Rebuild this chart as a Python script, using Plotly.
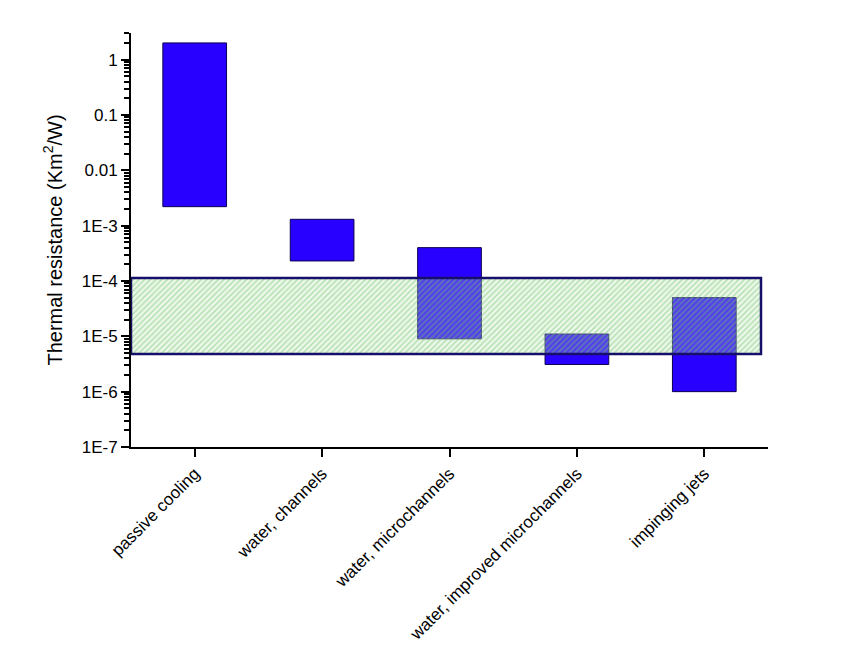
import plotly.graph_objects as go

# ---- data ----
categories = [
    "passive cooling",
    "water, channels",
    "water, microchannels",
    "water, improved microchannels",
    "impinging jets",
]
r_low = [2.2e-3, 2.3e-4, 9.0e-6, 3.1e-6, 1.0e-6]
r_high = [2.0, 1.3e-3, 4.0e-4, 1.1e-5, 5.0e-5]

target_low = 4.8e-6
target_high = 1.13e-4

y_tick_vals = [1e-7, 1e-6, 1e-5, 1e-4, 1e-3, 1e-2, 1e-1, 1]
y_tick_text = ["1E-7", "1E-6", "1E-5", "1E-4", "1E-3", "0.01", "0.1", "1"]

# ---- figure ----
FONT = "Liberation Sans, Arial, sans-serif"
Y_RANGE = [-7, 0.48]
fig = go.Figure()

fig.add_trace(go.Bar(
    x=categories,
    y=[h - l for l, h in zip(r_low, r_high)],
    base=r_low,
    width=0.5,
    marker=dict(color="#2800FF", line=dict(color="#0a0050", width=1)),
    hoverinfo="skip",
    showlegend=False,
))

band_right = 0.989
fig.add_trace(go.Scatter(
    x=[0, band_right, band_right, 0, 0],
    y=[target_low, target_low, target_high, target_high, target_low],
    xaxis="x2", yaxis="y2",
    mode="lines",
    fill="toself",
    fillcolor="rgba(190,230,180,0.28)",
    fillpattern=dict(shape="/", fgcolor="rgba(110,195,110,0.9)", fgopacity=0.5,
                     bgcolor="rgba(190,230,180,0.28)", size=4, solidity=0.38),
    line=dict(color="#16106a", width=2.5),
    hoverinfo="skip",
    showlegend=False,
))

fig.update_layout(
    width=865, height=662,
    margin=dict(l=123, r=105, t=25, b=223),
    paper_bgcolor="white", plot_bgcolor="white",
    font=dict(family=FONT, color="black"),
    barmode="overlay",
    xaxis=dict(
        type="category",
        range=[-0.5, 4.5],
        showline=True, linecolor="black", linewidth=2,
        ticks="outside", ticklen=8, tickwidth=2, tickcolor="black",
        tickangle=-45, tickfont=dict(size=17, family=FONT),
        showgrid=False, zeroline=False,
    ),
    xaxis2=dict(
        overlaying="x", anchor="y2", range=[0, 1], visible=False,
        showgrid=False, zeroline=False,
    ),
    yaxis=dict(
        type="log",
        range=Y_RANGE,
        tickmode="array",
        tickvals=y_tick_vals, ticktext=y_tick_text,
        showline=True, linecolor="black", linewidth=2,
        ticks="outside", ticklen=8, tickwidth=2, tickcolor="black",
        minor=dict(ticks="outside", ticklen=5, tickcolor="black",
                   dtick="D1", showgrid=False),
        tickfont=dict(size=17, family=FONT),
        showgrid=False, zeroline=False,
        title=dict(text="Thermal resistance (Km<sup>2</sup>/W)",
                   font=dict(size=20, family=FONT), standoff=14),
    ),
    yaxis2=dict(
        type="log", overlaying="y", anchor="x2", side="right",
        range=Y_RANGE, visible=False, showgrid=False, zeroline=False,
    ),
)

fig.write_html("out.html")
